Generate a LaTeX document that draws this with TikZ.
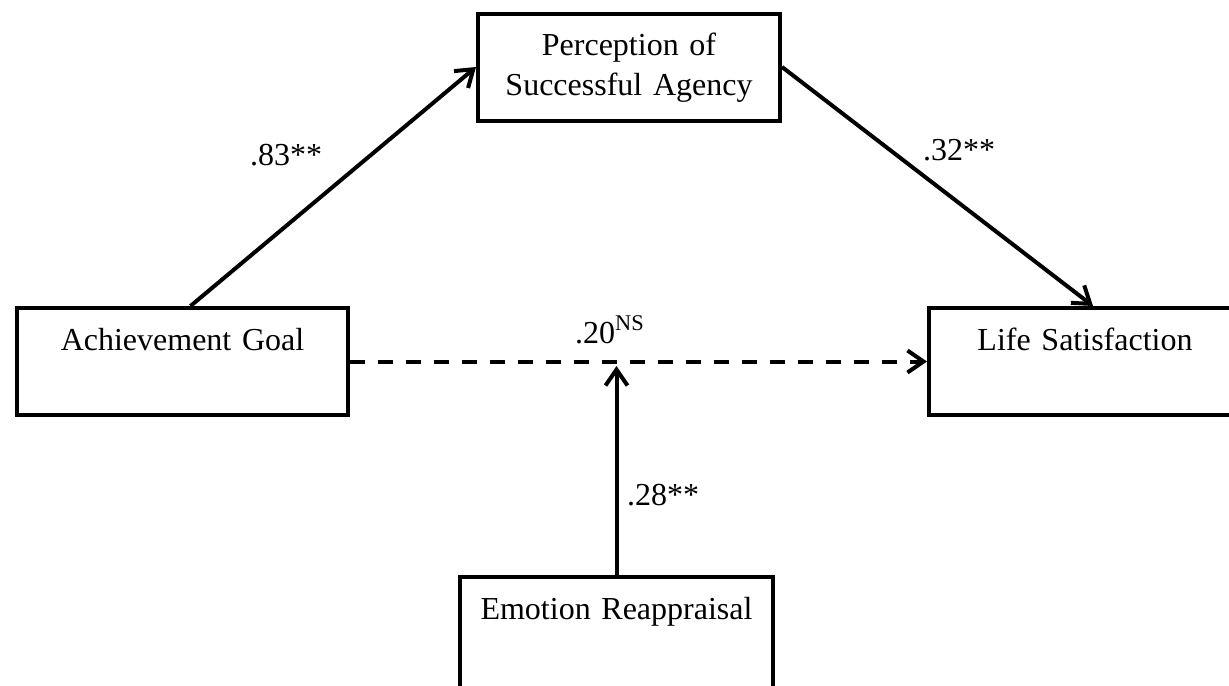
\documentclass[tikz,border=0pt]{standalone}
\usepackage{fontspec}
\setmainfont{Liberation Serif}
\usepackage{xcolor}
\usepackage{tikz}
\usetikzlibrary{positioning,arrows.meta,calc}
\definecolor{ink}{HTML}{000000}
\newcommand{\nsword}[1]{#1\textsuperscript{NS}}

\begin{document}
\begin{tikzpicture}[x=0.5pt,y=-0.5pt,
    font=\fontsize{16}{20}\selectfont,
    varbox/.style={draw=ink, line width=2pt, inner xsep=0pt, inner ysep=0pt,
                   align=center, text height=21pt, text depth=32.5pt},
    effect/.style={draw=ink, line width=2pt, -{Straight Barb[length=8pt,width=11pt]}},
    coef/.style={anchor=base, inner sep=0pt, text=ink}]

  \useasboundingbox (0,0) rectangle (1229,685);
  \clip (0,0) rectangle (1229,685);

  % variables
  \node[varbox, text width=165.5pt] (ach) at (182.5,361.5) {Achievement Goal};
  \node[varbox, text width=151pt] (perc) at (629,67) {Perception of\\Successful Agency};
  \node[varbox, text width=156pt] (life) at (1085,361.5) {Life Satisfaction};
  \node[varbox, text width=156.5pt, text depth=35pt] (emo) at (616.5,633) {Emotion Reappraisal};
  \coordinate (mod) at (616.5,366);

  % paths
  \draw[effect] ([xshift=4pt]ach.north) -- (perc.west);
  \draw[effect] (perc.east) -- ([xshift=4pt]life.north);
  \draw[effect, dash pattern=on 7.5pt off 6.5pt] (ach.east) -- (life.west);
  \draw[effect] (emo.north) -- (mod);

  % weights
  \node[coef] (w83) at (286,165) {.83**};
  \node[coef] (w32) at (959,160) {.32**};
  \node[coef] (w20) at (610,343) {\nsword{.20}};
  \node[coef] (w28) at (663,505) {.28**};
\end{tikzpicture}
\end{document}
